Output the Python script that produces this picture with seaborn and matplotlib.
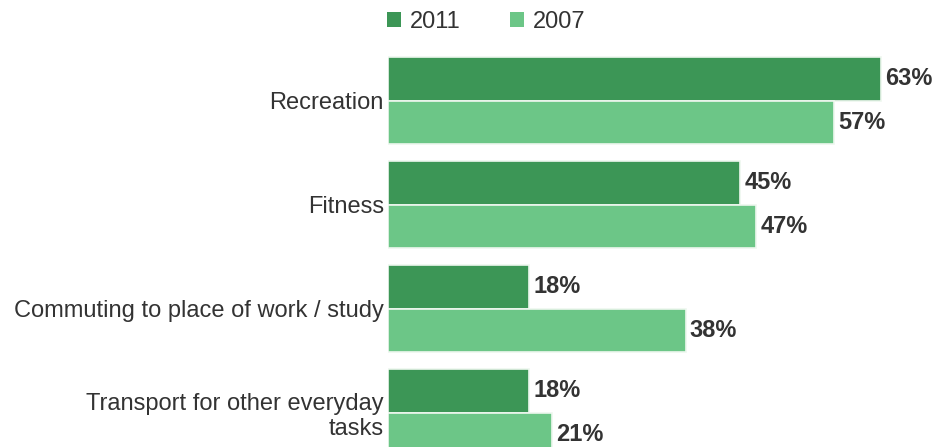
import matplotlib
matplotlib.use("Agg")
import matplotlib.pyplot as plt
import seaborn as sns
import pandas as pd
from matplotlib.patches import Patch

categories = ["Recreation", "Fitness", "Commuting to place of work / study",
              "Transport for other everyday\ntasks"]
years = ["2011", "2007"]
values_2011 = [63, 45, 18, 18]
values_2007 = [57, 47, 38, 21]
colors = {"2011": "#3c9656", "2007": "#6cc687"}

df = pd.DataFrame({
    "category": categories * 2,
    "year": ["2011"] * 4 + ["2007"] * 4,
    "share": values_2011 + values_2007,
})

sns.set_theme(style="white")
plt.rcParams["font.family"] = ["Liberation Sans", "DejaVu Sans"]

fig = plt.figure(figsize=(9.37, 4.47), dpi=100)
ax = fig.add_axes([388 / 937, 0.0, 1 - 388 / 937, 1.0])

sns.barplot(data=df, y="category", x="share", hue="year", hue_order=years,
            order=categories, palette=colors, saturation=1, orient="h", width=0.84,
            edgecolor="#eef7ef", linewidth=1.2, legend=False, ax=ax)

for cont, vals in zip(ax.containers, [values_2011, values_2007]):
    ax.bar_label(cont, labels=[f"{v}%" for v in vals], padding=3,
                 fontsize=17, fontweight="bold", color="#333333")

ax.set_xlim(0, (937 - 388) / 7.83)
ax.set_ylim((447 - 100.5) / 104, -100.5 / 104)
ax.set_xlabel("")
ax.set_ylabel("")
ax.xaxis.set_visible(False)
ax.tick_params(axis="y", length=0, pad=3, labelsize=17, labelcolor="#333333")
for lbl in ax.get_yticklabels():
    lbl.set_linespacing(1.15)
for s in ax.spines.values():
    s.set_visible(False)

handles = [Patch(facecolor=colors[y], edgecolor="none", label=y) for y in years]
fig.legend(handles=handles, loc="center left", bbox_to_anchor=(366 / 937, 1 - 22 / 447),
           ncol=2, frameon=False, fontsize=17, handlelength=0.6, handleheight=0.6,
           handletextpad=0.35, columnspacing=2.1, labelcolor="#333333")

fig.savefig("out.png", dpi=100)
